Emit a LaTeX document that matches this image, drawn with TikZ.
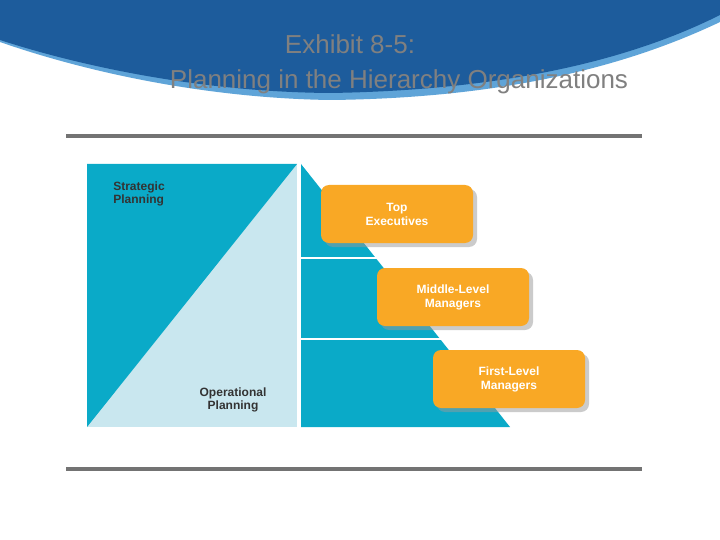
\documentclass[tikz,border=0pt]{standalone}
\usepackage{fontspec}
\setmainfont{Liberation Sans}
\usetikzlibrary{shadows}
\definecolor{teal1}{HTML}{0AAAC8}
\definecolor{teal2}{HTML}{C9E7EF}
\definecolor{org}{HTML}{F9A825}
\definecolor{hdr}{HTML}{1D5C9C}
\definecolor{hdrl}{HTML}{5FA4D8}
\tikzset{
  role/.style={fill=org,rounded corners=8pt,minimum width=152pt,minimum height=58pt,text=white,font=\bfseries\fontsize{12}{14}\selectfont,align=center,drop shadow={shadow xshift=4pt,shadow yshift=-4pt,fill=black!40,opacity=0.5}},
  lbl/.style={text=black!80,font=\bfseries\fontsize{12}{13}\selectfont,align=left},
  rule/.style={draw=black!55,line width=3.5pt}
}
\begin{document}
\begin{tikzpicture}[x=1pt,y=-1pt]
\useasboundingbox (0,0) rectangle (720,540);
\fill[white] (0,0) rectangle (720,540);
% header swoosh
\fill[hdrl] (0,0) -- (720,0) -- (720,22) .. controls (640,60) and (520,98) .. (330,100) .. controls (200,98) and (80,70) .. (0,42) -- cycle;
\fill[hdr] (0,0) -- (720,0) -- (720,15) .. controls (640,55) and (520,90) .. (330,93) .. controls (200,92) and (80,66) .. (0,40) -- cycle;
\node[text=black!50,font=\fontsize{26}{28}\selectfont] (t1) at (350,44) {Exhibit 8-5:};
\node[text=black!50,font=\fontsize{26}{28}\selectfont] (t2) at (399,82) {Planning in the Hierarchy Organizations};
% rules
\coordinate (r1a) at (66,136); \coordinate (r1b) at (642,136);
\coordinate (r2a) at (66,469); \coordinate (r2b) at (642,469);
\draw[rule] (r1a) -- (r1b);
\draw[rule] (r2a) -- (r2b);
% left square
\fill[teal2] (87,164) rectangle (297,427);
\fill[teal1] (87,164) -- (297,164) -- (87,427) -- cycle;
% staircase
\fill[teal1] (301,164) -- (510,427) -- (301,427) -- cycle;
\draw[white,line width=2.5pt] (301,258) -- (380,258);
\draw[white,line width=2.5pt] (301,339) -- (445,339);
\node[lbl] (sp) at (139,194) {Strategic\\Planning};
\node[lbl,align=center] (op) at (233,400) {Operational\\Planning};
\node[role] (top) at (397,214) {Top\\Executives};
\node[role] (mid) at (453,297) {Middle-Level\\Managers};
\node[role] (first) at (509,379) {First-Level\\Managers};
\end{tikzpicture}
\end{document}
